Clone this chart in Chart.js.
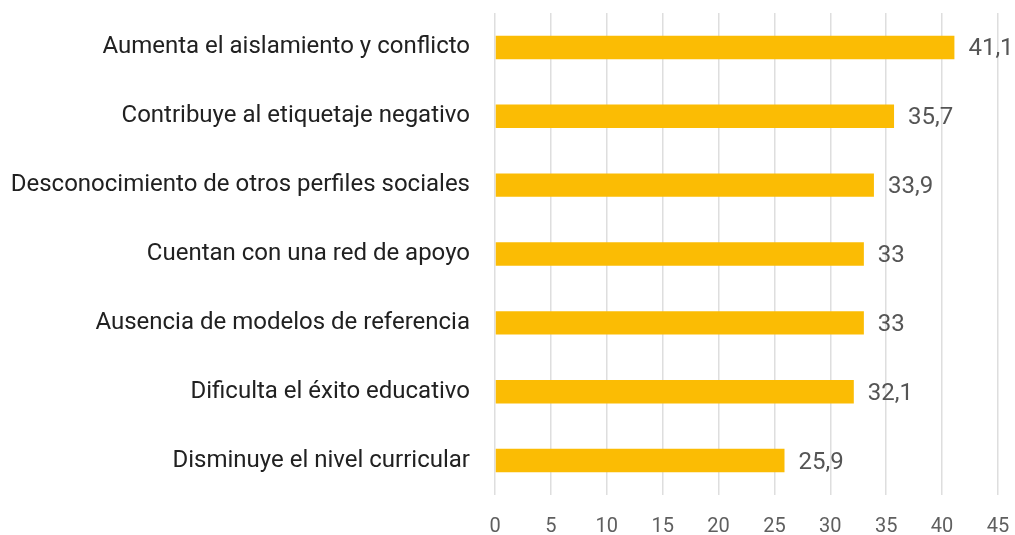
<!DOCTYPE html>
<html>
	<head>
		<title>Percepciones</title>
		<meta http-equiv="Content-Type" content="text/html; charset=UTF-8" />
		<script src="https://cdn.jsdelivr.net/npm/chart.js@4/dist/chart.umd.min.js"></script>
		<style>
			html, body { margin: 0; padding: 0; background: #fff; }
			#wrap { width: 1015px; height: 535px; }
		</style>
	</head>
	<body>
		<div id="wrap"><canvas id="myChart" width="1015" height="535"></canvas></div>

		<script>
			// categories, top to bottom
			var categorias = [
				'Aumenta el aislamiento y conflicto',
				'Contribuye al etiquetaje negativo',
				'Desconocimiento de otros perfiles sociales',
				'Cuentan con una red de apoyo',
				'Ausencia de modelos de referencia',
				'Dificulta el éxito educativo',
				'Disminuye el nivel curricular'
			];
			var valores = [41.1, 35.7, 33.9, 33, 33, 32.1, 25.9];
			var ejeMax = 45;
			var ejePaso = 5;

			// writes the value at the end of each bar, with a decimal comma
			var etiquetasValor = {
				id: 'etiquetasValor',
				afterDatasetsDraw: function(chart) {
					var ctx = chart.ctx;
					var meta = chart.getDatasetMeta(0);
					ctx.save();
					ctx.font = '24px Roboto';
					ctx.fillStyle = '#555555';
					ctx.textAlign = 'left';
					ctx.textBaseline = 'middle';
					meta.data.forEach(function(bar, i) {
						var txt = String(valores[i]).replace('.', ',');
						ctx.fillText(txt, bar.x + 14, bar.y + 2);
					});
					ctx.restore();
				}
			};

			var ctx = document.getElementById('myChart').getContext('2d');
			var chart = new Chart(ctx, {
				type: 'bar',
				data: {
					labels: categorias,
					datasets: [{
						data: valores,
						backgroundColor: '#FBBC04',
						borderWidth: 0,
						barPercentage: 0.68,
						categoryPercentage: 0.5
					}]
				},
				options: {
					indexAxis: 'y',
					responsive: false,
					animation: false,
					layout: { padding: { top: 13, right: 17, left: 0, bottom: 0 } },
					plugins: {
						legend: { display: false },
						tooltip: { enabled: false }
					},
					scales: {
						x: {
							min: 0,
							max: ejeMax,
							border: { display: false },
							grid: { color: '#dedede', lineWidth: 1.5, drawTicks: false },
							ticks: {
								stepSize: ejePaso,
								padding: 20,
								color: '#5f5f5f',
								font: { family: 'Roboto', size: 20 }
							},
							afterFit: function(scale) {
								scale.height = 40;
								scale.paddingLeft = 0;
								scale.paddingRight = 0;
							}
						},
						y: {
							border: { display: false },
							grid: { display: false, drawTicks: false },
							ticks: {
								padding: 25,
								color: '#212121',
								font: { family: 'Roboto', size: 24 }
							},
							afterFit: function(scale) {
								scale.width = 495;
								scale.paddingTop = 0;
								scale.paddingBottom = 0;
							}
						}
					}
				},
				plugins: [etiquetasValor]
			});
		</script>
	</body>
</html>
